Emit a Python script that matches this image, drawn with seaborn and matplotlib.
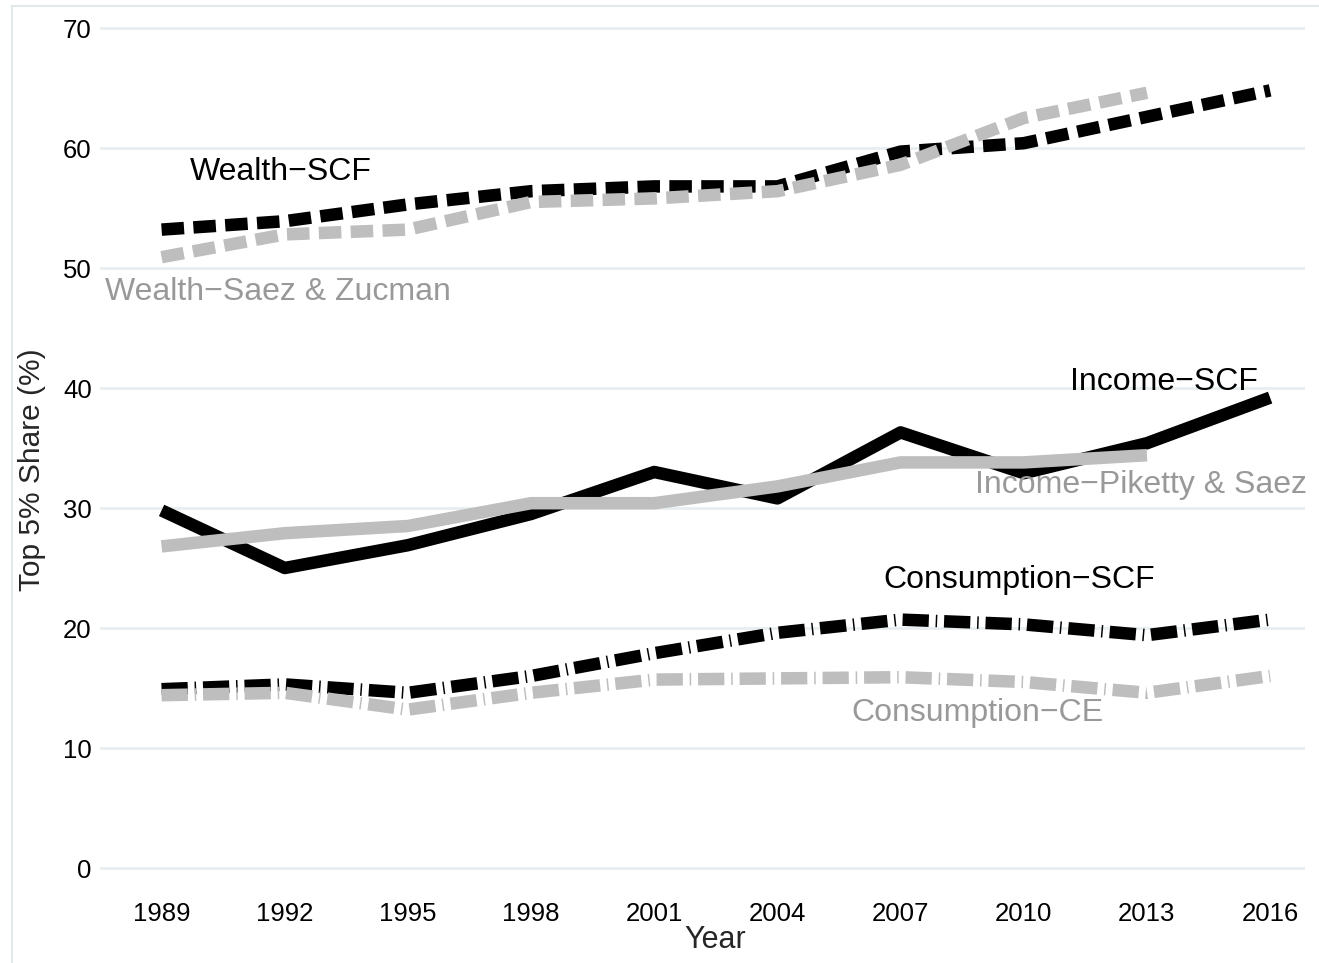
import pandas as pd
import numpy as np
import matplotlib.pyplot as plt
import matplotlib.patches as mpatches
import seaborn as sns

# Top 5% shares
years = [1989, 1992, 1995, 1998, 2001, 2004, 2007, 2010, 2013, 2016]
wealth_scf = [53.2, 53.9, 55.3, 56.4, 56.8, 56.8, 59.7, 60.4, 62.6, 64.8]
wealth_sz = [50.9, 52.8, 53.2, 55.5, 55.8, 56.4, 58.6, 62.5, 64.6]
income_scf = [29.8, 25.0, 26.9, 29.5, 33.0, 30.8, 36.3, 32.9, 35.4, 39.2]
income_ps = [26.8, 27.9, 28.5, 30.4, 30.4, 31.8, 33.8, 33.8, 34.4]
cons_scf = [14.9, 15.3, 14.6, 16.0, 17.9, 19.6, 20.7, 20.3, 19.4, 20.7]
cons_ce = [14.4, 14.6, 13.2, 14.6, 15.7, 15.8, 15.9, 15.5, 14.6, 16.0]

series = {
    'Wealth\u2212SCF': wealth_scf,
    'Wealth\u2212Saez & Zucman': wealth_sz,
    'Income\u2212SCF': income_scf,
    'Income\u2212Piketty & Saez': income_ps,
    'Consumption\u2212SCF': cons_scf,
    'Consumption\u2212CE': cons_ce,
}

rows = []
for name, vals in series.items():
    for yr, v in zip(years, vals):
        rows.append({'Year': yr, 'Share': v, 'Series': name})
df = pd.DataFrame(rows)

BLACK = '#000000'
GRAY = '#bebebe'
GRAY_TXT = '#999999'

palette = {
    'Wealth\u2212SCF': BLACK, 'Wealth\u2212Saez & Zucman': GRAY,
    'Income\u2212SCF': BLACK, 'Income\u2212Piketty & Saez': GRAY,
    'Consumption\u2212SCF': BLACK, 'Consumption\u2212CE': GRAY,
}
dashed = (1.8, 0.75)
dashdot = (2.1, 0.55, 0.12, 0.55)
dashes = {
    'Wealth\u2212SCF': dashed, 'Wealth\u2212Saez & Zucman': dashed,
    'Income\u2212SCF': '', 'Income\u2212Piketty & Saez': '',
    'Consumption\u2212SCF': dashdot, 'Consumption\u2212CE': dashdot,
}
order = ['Wealth\u2212SCF', 'Income\u2212SCF', 'Consumption\u2212SCF',
         'Wealth\u2212Saez & Zucman', 'Income\u2212Piketty & Saez', 'Consumption\u2212CE']

sns.set_theme(style='white')
plt.rcParams['font.family'] = ['Liberation Sans', 'DejaVu Sans']

fig = plt.figure(figsize=(13.19, 9.63), dpi=100)
ax = fig.add_axes([100 / 1319, 83 / 963, 1205 / 1319, 864 / 963])

# light panel border
fig.patches.append(mpatches.Rectangle((12 / 1319, -0.01), 1.0, 1 - 6 / 963 + 0.01,
                                      transform=fig.transFigure, fill=False,
                                      edgecolor='#e3e9eb', linewidth=1.5))

sns.lineplot(data=df, x='Year', y='Share', hue='Series', style='Series',
             hue_order=order, style_order=order, palette=palette, dashes=dashes,
             linewidth=9, legend=False, ax=ax)
for line in ax.get_lines():
    line.set_solid_capstyle('butt')
    line.set_dash_capstyle('butt')

ax.set_xlim(1987.5, 2016.85)
ax.set_ylim(-1, 71)
ax.set_xticks(years)
ax.set_yticks(range(0, 71, 10))
ax.yaxis.grid(True, color='#e8eef0', linewidth=2)
ax.xaxis.grid(False)
ax.set_axisbelow(True)
for s in ax.spines.values():
    s.set_visible(False)
ax.tick_params(axis='both', length=0, labelsize=18.5, colors='black')
ax.tick_params(axis='y', pad=6)
ax.tick_params(axis='x', pad=16)

ax.set_xlabel('Year', fontsize=22)
ax.set_ylabel('Top 5% Share (%)', fontsize=21.5)
ax.xaxis.set_label_coords((715 - 100) / 1205, -(940 - 880) / 864)
ax.xaxis.label.set_va('center')
ax.yaxis.set_label_coords(-(100 - 32) / 1205, (880 - 470) / 864)
ax.yaxis.label.set_va('center')

# series labels
fs = 23
ax.text(1989.68, 58.0, 'Wealth\u2212SCF', color=BLACK, fontsize=fs, va='center', ha='left')
ax.text(1987.61, 48.0, 'Wealth\u2212Saez & Zucman', color=GRAY_TXT, fontsize=fs, va='center', ha='left')
ax.text(2011.12, 40.5, 'Income\u2212SCF', color=BLACK, fontsize=fs, va='center', ha='left')
ax.text(2008.81, 31.9, 'Income\u2212Piketty & Saez', color=GRAY_TXT, fontsize=fs, va='center', ha='left')
ax.text(2006.57, 24.0, 'Consumption\u2212SCF', color=BLACK, fontsize=fs, va='center', ha='left')
ax.text(2005.81, 12.9, 'Consumption\u2212CE', color=GRAY_TXT, fontsize=fs, va='center', ha='left')

fig.savefig('out.png', dpi=100)
